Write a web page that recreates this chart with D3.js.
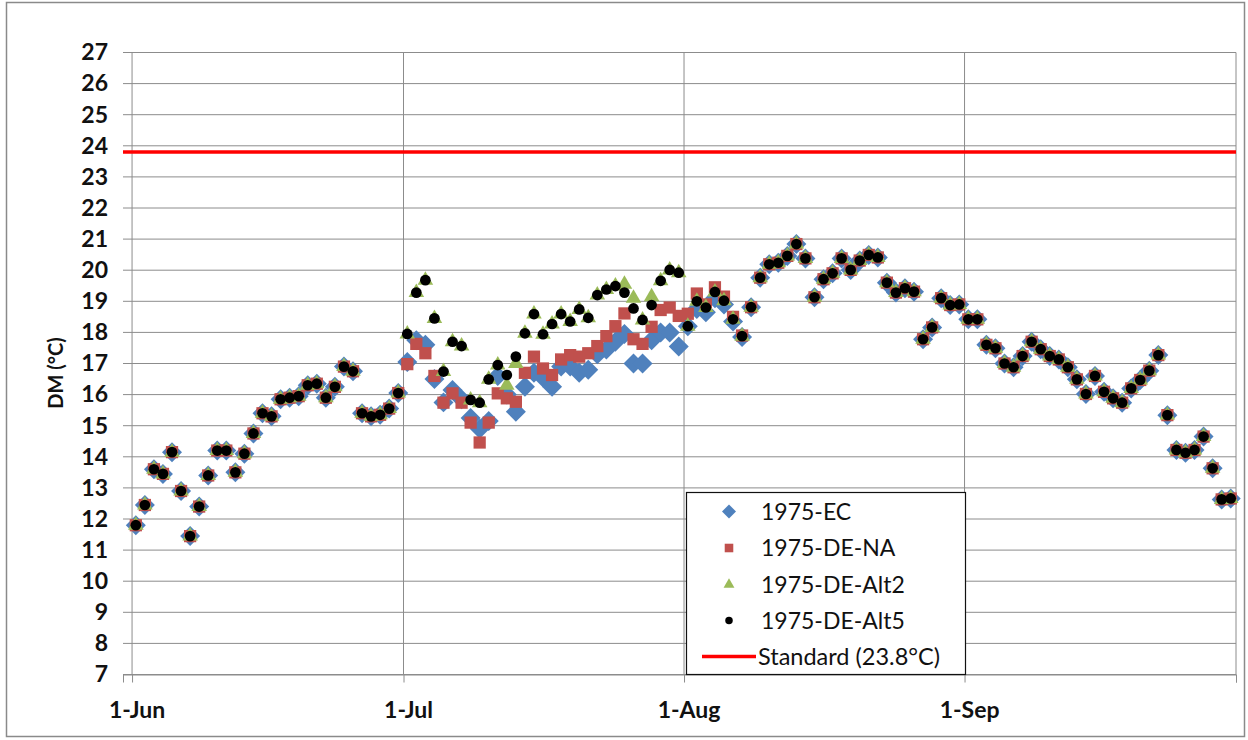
<!DOCTYPE html>
<html>
<head>
<meta charset="utf-8">
<script src="https://cdn.jsdelivr.net/npm/d3@7"></script>
<style>
  body { margin: 0; background: #fff; }
  svg text { font-family: Lato, "Liberation Sans", sans-serif; fill: #111; }
</style>
</head>
<body>
<div id="chart"></div>
<script>
// one value per day, 1-Jun .. 30-Sep
const ecValues = [
  11.8, 12.45, 13.6, 13.45, 14.15, 12.9, 11.45, 12.4, 13.4, 14.2, 14.2, 13.5, 14.1, 14.75, 15.4, 15.3, 15.85, 15.9, 15.95, 16.3, 16.35, 15.9, 16.25, 16.9, 16.75, 15.4, 15.3, 15.35, 15.55, 16.05,
  17.05, 17.75, 17.6, 16.5, 15.75, 16.15, 15.85, 15.25, 14.9, 15.15, 16.6, 16.0, 15.45, 16.25, 16.7, 16.55, 16.25, 16.9, 16.9, 16.7, 16.8, 17.3, 17.45, 17.7, 17.95, 17.0, 17.0, 17.75, 18.0, 18.0, 17.55,
  18.2, 18.75, 18.65, 19.1, 18.9, 18.35, 17.85, 18.81, 19.76, 20.19, 20.24, 20.46, 20.84, 20.38, 19.13, 19.71, 19.9, 20.38, 20.01, 20.31, 20.49, 20.41, 19.6, 19.28, 19.42, 19.31, 17.78, 18.16, 19.1, 18.88, 18.9,
  18.42, 18.42, 17.6, 17.49, 17.0, 16.88, 17.24, 17.7, 17.46, 17.24, 17.13, 16.88, 16.49, 16.02, 16.6, 16.09, 15.88, 15.74, 16.2, 16.47, 16.77, 17.27, 15.34, 14.22, 14.13, 14.22, 14.65, 13.63, 12.63, 12.66
];
const naValues = [
  11.8, 12.45, 13.6, 13.45, 14.15, 12.9, 11.45, 12.4, 13.4, 14.2, 14.2, 13.5, 14.1, 14.75, 15.4, 15.3, 15.85, 15.9, 15.95, 16.3, 16.35, 15.9, 16.25, 16.9, 16.75, 15.4, 15.3, 15.35, 15.55, 16.05,
  16.98, 17.63, 17.33, 16.6, 15.74, 16.04, 15.74, 15.1, 14.46, 15.1, 16.04, 15.88, 15.77, 16.7, 17.22, 16.84, 16.63, 17.13, 17.27, 17.22, 17.33, 17.56, 17.88, 18.2, 18.61, 17.78, 17.63, 18.18, 18.72, 18.8, 18.53,
  18.6, 19.25, 18.9, 19.45, 19.15, 18.5, 17.9, 18.81, 19.76, 20.19, 20.24, 20.46, 20.84, 20.38, 19.13, 19.71, 19.9, 20.38, 20.01, 20.31, 20.49, 20.41, 19.6, 19.28, 19.42, 19.31, 17.78, 18.16, 19.1, 18.88, 18.9,
  18.42, 18.42, 17.6, 17.49, 17.0, 16.88, 17.24, 17.7, 17.46, 17.24, 17.13, 16.88, 16.49, 16.02, 16.6, 16.09, 15.88, 15.74, 16.2, 16.47, 16.77, 17.27, 15.34, 14.22, 14.13, 14.22, 14.65, 13.63, 12.63, 12.66
];
const alt2Values = [
  11.8, 12.45, 13.6, 13.45, 14.15, 12.9, 11.45, 12.4, 13.4, 14.2, 14.2, 13.5, 14.1, 14.75, 15.4, 15.3, 15.85, 15.9, 15.95, 16.3, 16.35, 15.9, 16.25, 16.9, 16.75, 15.4, 15.3, 15.35, 15.55, 16.05,
  17.95, 19.28, 19.68, 18.45, 16.74, 17.7, 17.56, 15.83, 15.74, 16.49, 16.95, 16.3, 17.0, 17.97, 18.59, 17.94, 18.27, 18.59, 18.35, 18.74, 18.47, 19.2, 19.38, 19.49, 19.55, 19.1, 18.4, 19.15, 19.66, 20.01, 19.92,
  18.2, 19.0, 18.8, 19.3, 19.02, 18.42, 17.88, 18.81, 19.76, 20.19, 20.24, 20.46, 20.84, 20.38, 19.13, 19.71, 19.9, 20.38, 20.01, 20.31, 20.49, 20.41, 19.6, 19.28, 19.42, 19.31, 17.78, 18.16, 19.1, 18.88, 18.9,
  18.42, 18.42, 17.6, 17.49, 17.0, 16.88, 17.24, 17.7, 17.46, 17.24, 17.13, 16.88, 16.49, 16.02, 16.6, 16.09, 15.88, 15.74, 16.2, 16.47, 16.77, 17.27, 15.34, 14.22, 14.13, 14.22, 14.65, 13.63, 12.63, 12.66
];
const alt5Values = [
  11.8, 12.45, 13.6, 13.45, 14.15, 12.9, 11.45, 12.4, 13.4, 14.2, 14.2, 13.5, 14.1, 14.75, 15.4, 15.3, 15.85, 15.9, 15.95, 16.3, 16.35, 15.9, 16.25, 16.9, 16.75, 15.4, 15.3, 15.35, 15.55, 16.05,
  17.95, 19.28, 19.68, 18.45, 16.74, 17.7, 17.56, 15.83, 15.74, 16.49, 16.95, 16.63, 17.22, 17.97, 18.59, 17.94, 18.27, 18.59, 18.35, 18.74, 18.47, 19.2, 19.38, 19.49, 19.28, 18.77, 18.4, 18.88, 19.66, 20.01, 19.92,
  18.2, 19.0, 18.8, 19.3, 19.02, 18.42, 17.88, 18.81, 19.76, 20.19, 20.24, 20.46, 20.84, 20.38, 19.13, 19.71, 19.9, 20.38, 20.01, 20.31, 20.49, 20.41, 19.6, 19.28, 19.42, 19.31, 17.78, 18.16, 19.1, 18.88, 18.9,
  18.42, 18.42, 17.6, 17.49, 17.0, 16.88, 17.24, 17.7, 17.46, 17.24, 17.13, 16.88, 16.49, 16.02, 16.6, 16.09, 15.88, 15.74, 16.2, 16.47, 16.77, 17.27, 15.34, 14.22, 14.13, 14.22, 14.65, 13.63, 12.63, 12.66
];
const standardValue = 23.8;

const seriesNames = ['1975-EC', '1975-DE-NA', '1975-DE-Alt2', '1975-DE-Alt5'];
const standardName = 'Standard (23.8°C)';
const yTicks = [7, 8, 9, 10, 11, 12, 13, 14, 15, 16, 17, 18, 19, 20, 21, 22, 23, 24, 25, 26, 27];
const monthLabels = ['1-Jun', '1-Jul', '1-Aug', '1-Sep', ''];

// dates
const days = d3.utcDay.range(Date.UTC(1975, 5, 1), Date.UTC(1975, 9, 1));
const monthStarts = d3.utcMonth.range(Date.UTC(1975, 5, 1), Date.UTC(1975, 9, 2));

const width = 1248, height = 740;
const margin = { top: 52.5, right: 12, bottom: 65.5, left: 123 };
const innerRight = width - margin.right;
const innerBottom = height - margin.bottom;

const svg = d3.select('#chart')
    .append('svg')
    .attr('width', width)
    .attr('height', height);

// chart border
svg.append('rect')
    .attr('x', 6.5).attr('y', 2.5)
    .attr('width', 1238).attr('height', 734)
    .attr('fill', '#fff')
    .attr('stroke', '#8a8a8a')
    .attr('stroke-width', 1.5);

const x = d3.scaleUtc()
    .domain([Date.UTC(1975, 4, 31), Date.UTC(1975, 9, 1)])
    .range([margin.left, innerRight]);
const y = d3.scaleLinear()
    .domain([7, 27])
    .range([innerBottom, margin.top]);

// Excel date axis puts each day in the middle of its slot
const offset = 10 * 3600 * 1000;
const px = d => x(new Date(+d + offset));

// horizontal gridlines
svg.append('g')
    .selectAll('line')
    .data(yTicks)
    .join('line')
    .attr('x1', margin.left).attr('x2', innerRight)
    .attr('y1', d => y(d)).attr('y2', d => y(d))
    .attr('stroke', '#8c8c8c')
    .attr('stroke-width', 1);

// vertical gridlines at month starts
svg.append('g')
    .selectAll('line')
    .data(monthStarts)
    .join('line')
    .attr('x1', d => x(d)).attr('x2', d => x(d))
    .attr('y1', margin.top).attr('y2', innerBottom)
    .attr('stroke', '#8c8c8c')
    .attr('stroke-width', 1);

// y axis labels
const yAxis = svg.append('g')
    .attr('transform', `translate(${margin.left},0)`)
    .call(d3.axisLeft(y).tickValues(yTicks).tickSize(0).tickPadding(15).tickFormat(d3.format('d')));
yAxis.select('.domain').remove();
yAxis.selectAll('text')
    .style('font-size', '23px')
    .style('font-weight', 'bold')
    .attr('fill', '#111');

// x axis ticks + labels
const xAxis = svg.append('g')
    .attr('transform', `translate(0,${innerBottom})`)
    .call(d3.axisBottom(x).tickValues(monthStarts).tickSize(8).tickPadding(19)
        .tickFormat((d, i) => monthLabels[i]));
xAxis.select('.domain').attr('stroke', '#8c8c8c');
xAxis.selectAll('line').attr('stroke', '#8c8c8c');
xAxis.selectAll('text')
    .attr('dx', x(new Date(Date.UTC(1975, 5, 1) + 12 * 3600 * 1000)) - x(Date.UTC(1975, 5, 1)))
    .style('font-size', '23px')
    .style('font-weight', 'bold')
    .attr('fill', '#111');

// y axis title
svg.append('text')
    .attr('transform', 'translate(63,373) rotate(-90)')
    .attr('text-anchor', 'middle')
    .style('font-size', '20px')
    .style('font-weight', 'bold')
    .text('DM (°C)');

// marker shapes
const shapes = {
    diamond: d3.symbol(d3.symbolSquare, 200)(),
    square: d3.symbol(d3.symbolSquare, 150)(),
    triangle: d3.symbol(d3.symbolTriangle, 105)(),
    circle: d3.symbol(d3.symbolCircle, 90)()
};

const series = [
    { name: seriesNames[0], values: ecValues, color: '#4f81bd', shape: 'diamond', rotate: 45 },
    { name: seriesNames[1], values: naValues, color: '#c0504d', shape: 'square', rotate: 0 },
    { name: seriesNames[2], values: alt2Values, color: '#9bbb59', shape: 'triangle', rotate: 0 },
    { name: seriesNames[3], values: alt5Values, color: '#000000', shape: 'circle', rotate: 0 }
];

// standard line
svg.append('line')
    .attr('x1', margin.left).attr('x2', innerRight)
    .attr('y1', y(standardValue)).attr('y2', y(standardValue))
    .attr('stroke', '#ff0000')
    .attr('stroke-width', 3.5);

// points
series.forEach(s => {
    svg.append('g')
        .selectAll('path')
        .data(s.values)
        .join('path')
        .attr('d', shapes[s.shape])
        .attr('transform', (v, i) => `translate(${px(days[i])},${y(v)}) rotate(${s.rotate})`)
        .attr('fill', s.color);
});

// legend
const legend = svg.append('g');
legend.append('rect')
    .attr('x', 686.5).attr('y', 492.5)
    .attr('width', 279).attr('height', 182)
    .attr('fill', '#fff')
    .attr('stroke', '#111')
    .attr('stroke-width', 1.2);

const rowY = [511.5, 548, 584.5, 620.5, 656.5];
series.forEach((s, i) => {
    legend.append('path')
        .attr('d', shapes[s.shape])
        .attr('transform', `translate(729,${rowY[i]}) rotate(${s.rotate}) scale(0.7)`)
        .attr('fill', s.color);
    legend.append('text')
        .attr('x', 761).attr('y', rowY[i])
        .attr('dy', '0.35em')
        .style('font-size', '23px')
        .text(s.name);
});
legend.append('line')
    .attr('x1', 702).attr('x2', 756)
    .attr('y1', rowY[4]).attr('y2', rowY[4])
    .attr('stroke', '#ff0000')
    .attr('stroke-width', 3.5);
legend.append('text')
    .attr('x', 758).attr('y', rowY[4])
    .attr('dy', '0.35em')
    .style('font-size', '23.5px')
    .text(standardName);
</script>
</body>
</html>
